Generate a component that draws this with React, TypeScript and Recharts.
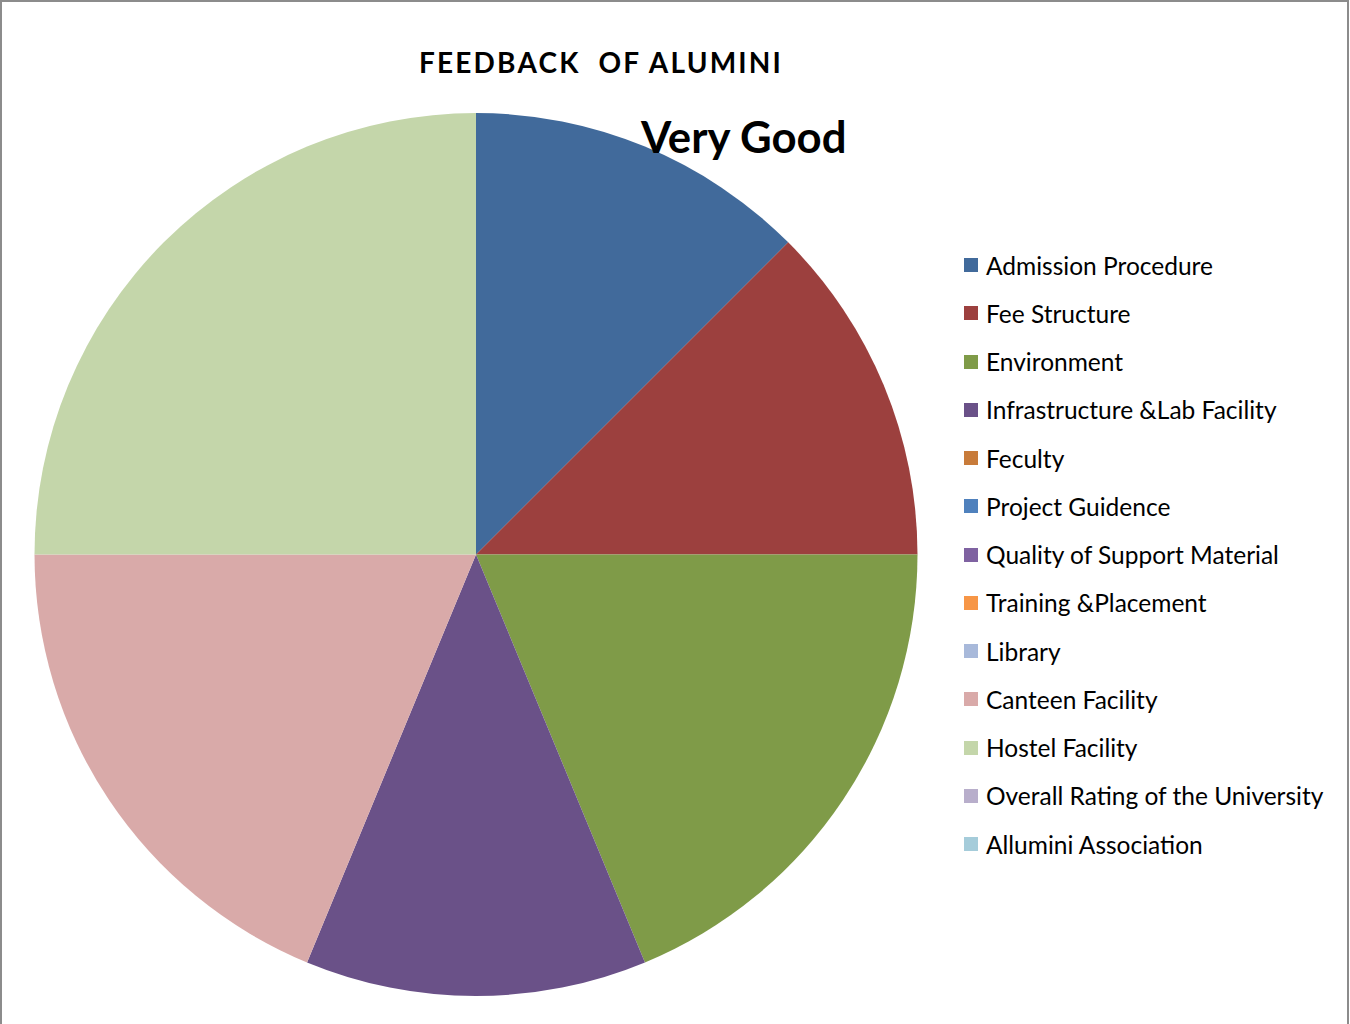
import React from "react";
import { PieChart, Pie, Cell, Legend } from "recharts";

const categories = [
  "Admission Procedure",
  "Fee Structure",
  "Environment",
  "Infrastructure &Lab Facility",
  "Feculty",
  "Project Guidence",
  "Quality of Support Material",
  "Training &Placement",
  "Library",
  "Canteen Facility",
  "Hostel Facility",
  "Overall Rating of the University",
  "Allumini Association",
];

const veryGoodValues = [2, 2, 3, 2, 0, 0, 0, 0, 0, 3, 4, 0, 0];

const colors = [
  "#416A9B",
  "#9C403E",
  "#7F9B48",
  "#6A5188",
  "#C87B3A",
  "#4F81BD",
  "#7F62A1",
  "#F79646",
  "#A8B9DA",
  "#D9AAA9",
  "#C4D6AA",
  "#B8AECB",
  "#A5CCDA",
];

const chartTitle = "FEEDBACK\u00a0 OF ALUMINI";
const seriesTitle = "Very Good";

const data = categories.map((name, i) => ({ name, value: veryGoodValues[i] }));

const FONT = "Lato, 'Open Sans', sans-serif";

const renderLegend = () => (
  <div style={{ position: "relative", width: 385, fontFamily: FONT }}>
    {categories.map((c, i) => (
      <div
        key={c}
        style={{
          position: "absolute",
          left: 0,
          top: i * 48.25,
          height: 30,
          display: "flex",
          alignItems: "center",
          whiteSpace: "nowrap",
        }}
      >
        <span
          style={{
            display: "inline-block",
            width: 14,
            height: 14,
            background: colors[i],
            marginRight: 8,
          }}
        />
        <span style={{ fontSize: 24.5, color: "#000" }}>{c}</span>
      </div>
    ))}
  </div>
);

export default function App() {
  return (
    <div
      style={{
        position: "absolute",
        left: 0,
        top: 0,
        width: 1350,
        height: 1024,
        background: "#fff",
        overflow: "hidden",
      }}
    >
      <div
        style={{
          position: "absolute",
          left: 0,
          top: 0,
          width: 1349,
          height: 1030,
          border: "2px solid #8C8C8C",
          boxSizing: "border-box",
        }}
      />
      <PieChart
        width={1350}
        height={1024}
        margin={{ top: 0, right: 0, bottom: 0, left: 0 }}
        style={{ position: "absolute", left: 0, top: 0 }}
      >
        <Pie
          data={data}
          dataKey="value"
          nameKey="name"
          cx={476}
          cy={554.5}
          outerRadius={441.5}
          startAngle={90}
          endAngle={-270}
          stroke="none"
          isAnimationActive={false}
          legendType="square"
        >
          {data.map((d, i) => (
            <Cell key={d.name} fill={colors[i]} />
          ))}
        </Pie>
        <Legend
          content={renderLegend}
          wrapperStyle={{ position: "absolute", left: 964, top: 250, width: 385 }}
        />
      </PieChart>
      <div
        style={{
          position: "absolute",
          left: 0,
          width: 1202,
          top: 44,
          textAlign: "center",
          fontFamily: FONT,
          fontWeight: 700,
          fontSize: 28,
          letterSpacing: 2.2,
          lineHeight: "36px",
          color: "#000",
        }}
      >
        {chartTitle}
      </div>
      <div
        style={{
          position: "absolute",
          left: 641,
          top: 110,
          fontFamily: FONT,
          fontWeight: 700,
          fontSize: 43.7,
          lineHeight: "52px",
          color: "#000",
          whiteSpace: "nowrap",
        }}
      >
        {seriesTitle}
      </div>
    </div>
  );
}
